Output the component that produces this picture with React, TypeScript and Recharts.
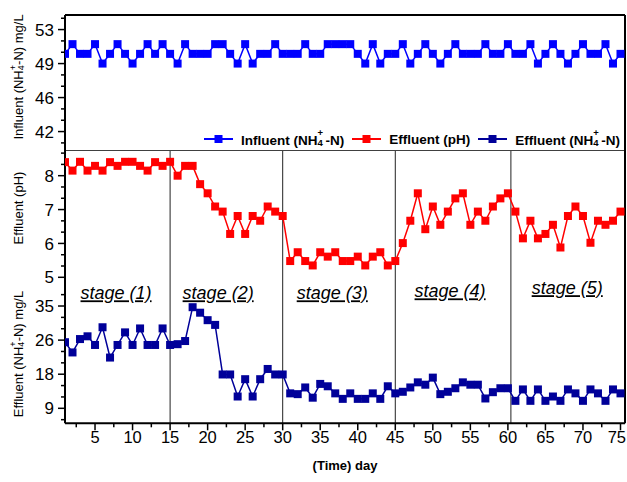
import React from 'react';
import { LineChart, Line, XAxis, YAxis, ReferenceLine, ReferenceDot, Label } from 'recharts';

const FONT = '"Liberation Sans", Arial, sans-serif';

// operating days
const days = Array.from({ length: 75 }, (_, i) => i + 1);

const influentNH4 = [
  50, 51, 50, 50, 51, 49, 50, 51, 50, 49, 50, 51, 50, 51, 50,
  49, 51, 50, 50, 50, 51, 51, 50, 49, 51, 49, 50, 50, 51, 50,
  50, 50, 51, 50, 50, 51, 51, 51, 51, 50, 49, 51, 49, 50, 50,
  51, 49, 50, 51, 50, 49, 50, 51, 50, 50, 50, 51, 50, 50, 51,
  50, 50, 51, 49, 50, 51, 50, 49, 50, 51, 50, 50, 51, 49, 50,
];

const effluentPH = [
  8.4, 8.15, 8.41, 8.15, 8.29, 8.15, 8.4, 8.29, 8.41, 8.41, 8.29, 8.15, 8.4, 8.29, 8.41,
  8.0, 8.29, 8.29, 7.75, 7.48, 7.09, 6.94, 6.28, 6.81, 6.28, 6.81, 6.67, 7.09, 6.94, 6.81,
  5.48, 5.74, 5.48, 5.35, 5.74, 5.61, 5.74, 5.48, 5.48, 5.61, 5.35, 5.61, 5.74, 5.35, 5.48,
  6.01, 6.67, 7.48, 6.42, 7.09, 6.55, 6.94, 7.33, 7.48, 6.55, 6.94, 6.67, 7.09, 7.33, 7.48,
  6.94, 6.15, 6.67, 6.15, 6.28, 6.55, 5.88, 6.81, 7.09, 6.81, 6.02, 6.67, 6.55, 6.67, 6.94,
];

const effluentNH4 = [
  25.8, 23.2, 26.6, 27.3, 25.1, 29.6, 21.9, 25.1, 28.3, 25.1, 29.3, 25.1, 25.1, 29.3, 25.1,
  25.3, 26.1, 34.7, 33.3, 31.4, 30.2, 17.6, 17.6, 12.0, 16.4, 12.0, 16.4, 19.0, 17.6, 17.6,
  12.8, 12.6, 14.3, 11.7, 15.2, 14.6, 12.8, 11.4, 12.8, 11.4, 11.4, 12.8, 11.4, 14.6, 12.8,
  13.2, 14.3, 15.6, 15.0, 16.8, 12.6, 13.2, 14.1, 15.6, 15.0, 15.0, 11.5, 13.1, 14.1, 14.1,
  10.9, 13.8, 10.9, 13.8, 10.9, 12.0, 10.9, 13.8, 12.8, 10.9, 13.8, 12.8, 10.9, 13.8, 12.8,
];

const X_DOMAIN = [1, 75.6];
const xMajorTicks = [5, 10, 15, 20, 25, 30, 35, 40, 45, 50, 55, 60, 65, 70, 75];
const xMinorTicks = [2.5, 7.5, 12.5, 17.5, 22.5, 27.5, 32.5, 37.5, 42.5, 47.5, 52.5, 57.5, 62.5, 67.5, 72.5];

const influentTicks = [42, 45.5, 49, 52.5];
const phTicks = [5, 6, 7, 8];
const nh4Ticks = [9, 17.667, 26.333, 35];

const stageLines = [15, 30, 45, 60.4];
const stageNames = ['stage (1)', 'stage (2)', 'stage (3)', 'stage (4)', 'stage (5)'];
const stageLabelDays = [7.8, 21.4, 36.6, 52.3, 67.9];
const stageLabelLevels = [38.3, 38.3, 38.3, 38.8, 39.6];

const BLUE = '#0000FF';
const RED = '#FF0000';
const NAVY = '#000099';

const data = days.map((day, i) => ({
  day,
  influent: influentNH4[i],
  ph: effluentPH[i],
  nh4: effluentNH4[i],
}));

// minor ticks: two between every pair of majors
const minorTicks = (majors: number[], lo: number, hi: number) => {
  const step = (majors[1] - majors[0]) / 3;
  const out: number[] = [];
  for (let k = -6; k <= 3 * majors.length + 6; k++) {
    if (k % 3 === 0) continue;
    const v = majors[0] + k * step;
    if (v > lo && v < hi) out.push(v);
  }
  return out;
};

const isMajor = (majors: number[], v: number) => majors.some((m) => Math.abs(m - v) < 1e-6);

const yTick = (majors: number[]) => (props: any) => {
  const { x, y, payload } = props;
  const major = isMajor(majors, payload.value);
  return (
    <g>
      <line x1={x} x2={x - (major ? 7 : 4)} y1={y} y2={y} stroke="#000" strokeWidth={1.5} />
      {major && (
        <text x={x - 11} y={y} dy="0.36em" textAnchor="end" fontSize={17} fontFamily={FONT} fill="#000">
          {Math.round(payload.value)}
        </text>
      )}
    </g>
  );
};

const xTick = (props: any) => {
  const { x, y, payload } = props;
  const major = isMajor(xMajorTicks, payload.value);
  // keep the last label inside the picture
  const atEdge = x + 9 > 626;
  return (
    <g>
      <line x1={x} x2={x} y1={y} y2={y + (major ? 7 : 4)} stroke="#000" strokeWidth={1.5} />
      {major && (
        <text
          x={atEdge ? 626 : x}
          y={y + 20}
          textAnchor={atEdge ? 'end' : 'middle'}
          fontSize={16.5}
          fontFamily={FONT}
          fill="#000"
        >
          {payload.value}
        </text>
      )}
    </g>
  );
};

// rotated axis title, optional NH4+ chemistry
const yTitle = (before: string, after: string | null, centerOffset: number) => (props: any) => {
  const vb = props.viewBox;
  const cx = vb.x + 18;
  const cy = vb.y + centerOffset;
  return (
    <text
      x={cx}
      y={cy}
      transform={`rotate(-90 ${cx} ${cy})`}
      textAnchor="middle"
      dominantBaseline="central"
      fontSize={13}
      fontFamily={FONT}
      fill="#000"
    >
      {before}
      {after !== null && (
        <>
          <tspan fontSize={9} dy={3}>4</tspan>
          <tspan fontSize={9} dx={-5} dy={-8}>+</tspan>
          <tspan dy={5}>{after}</tspan>
        </>
      )}
    </text>
  );
};

const NH4 = () => (
  <>
    NH
    <span style={{ display: 'inline-block', position: 'relative', width: 8, height: '1em' }}>
      <span style={{ position: 'absolute', left: 0, top: -3, fontSize: 9.5, lineHeight: 1 }}>+</span>
      <span style={{ position: 'absolute', left: 0, top: 7, fontSize: 9.5, lineHeight: 1 }}>4</span>
    </span>
    -N)
  </>
);

const LegendIcon = ({ color }: { color: string }) => (
  <svg width={29} height={10} style={{ display: 'block' }}>
    <line x1={0} x2={29} y1={5} y2={5} stroke={color} strokeWidth={2} />
    <rect x={10.5} y={1} width={8} height={8} fill={color} />
  </svg>
);

const legendItems = [
  { color: BLUE, label: <>Influent (<NH4 /></> },
  { color: RED, label: <>Effluent (pH)</> },
  { color: NAVY, label: <>Effluent (<NH4 /></> },
];

const squareDot = (color: string) => (p: any) => (
  <rect key={`d${p.index}`} x={p.cx - 4} y={p.cy - 4} width={8} height={8} fill={color} />
);

const frameLine = { stroke: '#000', strokeWidth: 2 };

export default function App() {
  return (
    <div style={{ position: 'fixed', left: 0, top: 0, width: 627, height: 482, background: '#fff' }}>
      {/* influent panel */}
      <div style={{ position: 'absolute', left: 0, top: 0 }}>
        <LineChart width={627} height={151} data={data} margin={{ top: 15, right: 2, bottom: 0, left: 0 }}>
          <XAxis dataKey="day" type="number" domain={X_DOMAIN} allowDataOverflow hide />
          <YAxis
            type="number"
            domain={[40, 54]}
            allowDataOverflow
            ticks={[...influentTicks, ...minorTicks(influentTicks, 40, 54)]}
            interval={0}
            width={65}
            tickSize={0}
            tickMargin={0}
            tickLine={false}
            axisLine={frameLine}
            tick={yTick(influentTicks)}
          >
            <Label content={yTitle('Influent (NH', '-N) mg/L', 62)} />
          </YAxis>
          <ReferenceLine y={54} {...frameLine} />
          <ReferenceLine y={40} stroke="#000" strokeWidth={1.5} />
          <ReferenceLine x={75.6} {...frameLine} />
          <Line
            dataKey="influent"
            type="linear"
            stroke={BLUE}
            strokeWidth={1.5}
            dot={squareDot(BLUE)}
            activeDot={false}
            isAnimationActive={false}
          />
        </LineChart>
      </div>

      {/* legend */}
      <div
        style={{
          position: 'absolute',
          left: 204,
          top: 131,
          height: 16,
          display: 'flex',
          alignItems: 'center',
          fontFamily: FONT,
          fontSize: 13.5,
          fontWeight: 'bold',
          whiteSpace: 'nowrap',
        }}
      >
        {legendItems.map((it, i) => (
          <div key={i} style={{ display: 'flex', alignItems: 'center', marginRight: 8 }}>
            <LegendIcon color={it.color} />
            <span style={{ marginLeft: 8 }}>{it.label}</span>
          </div>
        ))}
      </div>

      {/* effluent pH panel */}
      <div style={{ position: 'absolute', left: 0, top: 151 }}>
        <LineChart width={627} height={139} data={data} margin={{ top: 0, right: 2, bottom: 0, left: 0 }}>
          <XAxis dataKey="day" type="number" domain={X_DOMAIN} allowDataOverflow hide />
          <YAxis
            type="number"
            domain={[4.625, 8.729]}
            allowDataOverflow
            ticks={[...phTicks, ...minorTicks(phTicks, 4.8, 8.729)]}
            interval={0}
            width={65}
            tickSize={0}
            tickMargin={0}
            tickLine={false}
            axisLine={frameLine}
            tick={yTick(phTicks)}
          >
            <Label content={yTitle('Effluent (pH)', null, 57)} />
          </YAxis>
          <ReferenceLine x={75.6} {...frameLine} />
          {stageLines.map((d) => (
            <ReferenceLine key={d} x={d} stroke="#222" strokeWidth={1} />
          ))}
          <Line
            dataKey="ph"
            type="linear"
            stroke={RED}
            strokeWidth={1.5}
            dot={squareDot(RED)}
            activeDot={false}
            isAnimationActive={false}
          />
        </LineChart>
      </div>

      {/* effluent NH4 panel */}
      <div style={{ position: 'absolute', left: 0, top: 270 }}>
        <LineChart width={627} height={212} data={data} margin={{ top: 20, right: 2, bottom: 0, left: 0 }}>
          <XAxis
            dataKey="day"
            type="number"
            domain={X_DOMAIN}
            allowDataOverflow
            ticks={[...xMajorTicks, ...xMinorTicks]}
            interval={0}
            height={58.7}
            tickSize={0}
            tickMargin={0}
            tickLine={false}
            axisLine={frameLine}
            tick={xTick}
          >
            <Label
              content={(p: any) => (
                <text
                  x={p.viewBox.x + p.viewBox.width / 2}
                  y={p.viewBox.y + 47}
                  textAnchor="middle"
                  fontSize={13}
                  fontWeight="bold"
                  fontFamily={FONT}
                  fill="#000"
                >
                  (Time) day
                </text>
              )}
            />
          </XAxis>
          <YAxis
            type="number"
            domain={[5.19, 39.07]}
            allowDataOverflow
            ticks={[...nh4Ticks, ...minorTicks(nh4Ticks, 5.19, 39.07)]}
            interval={0}
            width={65}
            tickSize={0}
            tickMargin={0}
            tickLine={false}
            axisLine={frameLine}
            tick={yTick(nh4Ticks)}
          >
            <Label content={yTitle('Effluent (NH', '-N) mg/L', 64)} />
          </YAxis>
          <ReferenceLine x={75.6} {...frameLine} />
          {stageLines.map((d) => (
            <ReferenceLine key={d} x={d} stroke="#222" strokeWidth={1} />
          ))}
          {stageNames.map((name, i) => (
            <ReferenceDot
              key={name}
              x={stageLabelDays[i]}
              y={stageLabelLevels[i]}
              r={0}
              ifOverflow="visible"
              shape={(p: any) => (
                <text
                  x={p.cx}
                  y={p.cy}
                  dy="0.35em"
                  textAnchor="middle"
                  fontSize={18}
                  fontStyle="italic"
                  fontFamily={FONT}
                  fill="#000"
                  style={{ textDecoration: 'underline' }}
                >
                  {name}
                </text>
              )}
            />
          ))}
          <Line
            dataKey="nh4"
            type="linear"
            stroke={NAVY}
            strokeWidth={1.5}
            dot={squareDot(NAVY)}
            activeDot={false}
            isAnimationActive={false}
          />
        </LineChart>
      </div>
    </div>
  );
}
